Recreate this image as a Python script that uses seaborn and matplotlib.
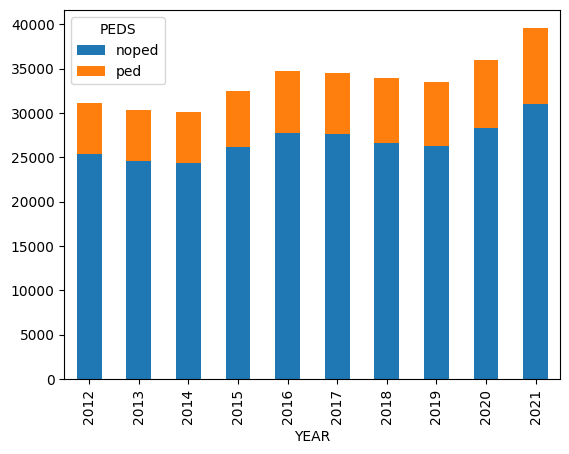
import matplotlib
matplotlib.use("Agg")
import matplotlib.pyplot as plt
import seaborn as sns
import pandas as pd
from matplotlib.patches import Patch

years = ["2012", "2013", "2014", "2015", "2016", "2017", "2018", "2019", "2020", "2021"]
noped = [25370, 24590, 24370, 26150, 27710, 27600, 26600, 26260, 28270, 30970]
ped = [5710, 5710, 5700, 6380, 7030, 6920, 7360, 7250, 7700, 8620]

df = pd.DataFrame({"YEAR": years, "noped": noped, "ped": ped})
df["total"] = df["noped"] + df["ped"]

blue = "#1f77b4"
orange = "#ff7f0e"

fig, ax = plt.subplots(figsize=(5.69, 4.54), dpi=100)
fig.subplots_adjust(left=0.113, right=0.985, top=0.977, bottom=0.165)

sns.barplot(data=df, x="YEAR", y="total", color=orange, saturation=1, width=0.5,
            errorbar=None, ax=ax)
sns.barplot(data=df, x="YEAR", y="noped", color=blue, saturation=1, width=0.5,
            errorbar=None, ax=ax)

ax.set_ylabel("")
ax.set_xlabel("YEAR")
ax.set_xlim(-0.5, len(years) - 0.5)
ax.set_yticks(range(0, 40001, 5000))
ax.tick_params(axis="x", labelrotation=90)

handles = [Patch(facecolor=blue, label="noped"), Patch(facecolor=orange, label="ped")]
ax.legend(handles=handles, title="PEDS", loc="upper left")

fig.savefig("out.png", dpi=100)
